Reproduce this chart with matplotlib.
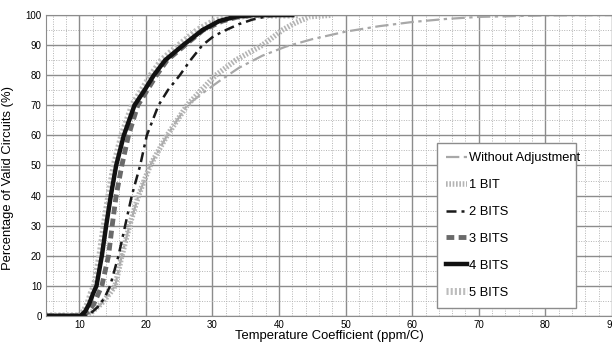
import matplotlib
matplotlib.use("Agg")
import matplotlib.pyplot as plt
from matplotlib.ticker import MultipleLocator

plt.rcParams['font.family'] = ['Liberation Sans', 'DejaVu Sans']

labels = ["Without Adjustment", "1 BIT", "2 BITS", "3 BITS", "4 BITS", "5 BITS"]

wa_x = [5, 10.8, 12.0, 13.3, 14.6, 15.4, 16.4, 17.55, 18.9, 20.65, 23.2, 26.2, 28.5, 31, 34, 37.5, 41, 45, 50, 55, 60, 65, 70, 80, 90]
wa_y = [0, 0, 1.5, 4, 7.5, 10, 20, 30, 40, 50, 60, 70, 74, 78, 82.5, 86.5, 89.5, 92, 94.5, 96.3, 97.7, 98.7, 99.4, 99.9, 100]

b1_x = [5, 10.8, 12.0, 13.3, 14.6, 15.4, 16.4, 17.55, 18.9, 20.65, 23.2, 26.2, 28.3, 30.5, 33.5, 37.5, 40.5, 42.5, 44.6, 48]
b1_y = [0, 0, 1.5, 4, 7.5, 10, 20, 30, 40, 50, 60, 70, 75, 80, 85, 90, 95, 97.5, 99.5, 100]

b2_x = [5, 10.8, 11.8, 12.8, 13.8, 14.65, 15.9, 16.9, 17.9, 19.15, 20.15, 21.9, 23.3, 25.1, 26.7, 28.5, 30.2, 32, 34, 36, 38, 40]
b2_y = [0, 0, 1, 3, 6, 10, 20, 30, 40, 50, 60, 70, 75, 80, 85, 90, 93, 95, 97, 98.5, 99.5, 100]

b3_x = [5, 10.6, 11.4, 12.2, 12.9, 13.4, 14.4, 14.95, 15.55, 16.4, 17.4, 18.8, 20.2, 21.6, 23.2, 25.9, 28.6, 31.5, 34, 37]
b3_y = [0, 0, 1.5, 4, 7.5, 10, 20, 30, 40, 50, 60, 70, 75, 80, 85, 90, 95, 98, 99.5, 100]

b4_x = [5, 10.2, 10.9, 11.5, 12.1, 12.6, 13.4, 14.05, 14.75, 15.55, 16.7, 18.3, 19.8, 21.2, 22.9, 25.6, 28.5, 31, 33.5, 36, 42]
b4_y = [0, 0, 1.5, 4, 7.5, 10, 20, 30, 40, 50, 60, 70, 75, 80, 85, 90, 95, 98, 99.5, 100, 100]

b5_x = [5, 10.0, 10.7, 11.3, 11.8, 12.3, 13.1, 13.75, 14.45, 15.25, 16.4, 18.0, 19.4, 20.8, 22.4, 25.0, 27.8, 30.3, 33, 36, 43]
b5_y = [0, 0, 1.5, 4, 7.5, 10, 20, 30, 40, 50, 60, 70, 75, 80, 85, 90, 95, 98, 99.5, 100, 100]

fig = plt.figure(figsize=(6.12, 3.43), dpi=100)
ax = fig.add_axes([0.075, 0.079, 0.925, 0.877])

ax.set_xlim(5, 90)
ax.set_ylim(0, 100)
ax.xaxis.set_major_locator(MultipleLocator(10))
ax.xaxis.set_minor_locator(MultipleLocator(2))
ax.yaxis.set_major_locator(MultipleLocator(10))
ax.yaxis.set_minor_locator(MultipleLocator(5))
ax.grid(which='major', color='#8c8c8c', lw=1.0, ls='-')
ax.grid(which='minor', color='#b4b4b4', lw=0.7, ls=(0, (1, 1.5)))
ax.set_axisbelow(True)
for s in ax.spines.values():
    s.set_color('#8c8c8c')
ax.tick_params(which='both', length=0, labelsize=7, pad=3)

l_wa, = ax.plot(wa_x, wa_y, color='#a8a8a8', lw=1.6, ls=(0, (6, 2, 1.5, 2)), label=labels[0])
l_b1, = ax.plot(b1_x, b1_y, color='#b4b4b4', lw=4.0, ls=(0, (0.3, 0.3)), label=labels[1])
l_b5, = ax.plot(b5_x, b5_y, color='#bcbcbc', lw=5.0, ls=(0, (0.3, 0.3)), label=labels[5])
l_b3, = ax.plot(b3_x, b3_y, color='#6a6a6a', lw=3.5, ls=(0, (1.6, 0.9)), label=labels[3])
l_b2, = ax.plot(b2_x, b2_y, color='#1a1a1a', lw=1.8, ls=(0, (4, 2, 1.2, 2)), label=labels[2])
l_b4, = ax.plot(b4_x, b4_y, color='#111111', lw=3.2, ls='-', label=labels[4])

ax.set_xlabel("Temperature Coefficient (ppm/C)", fontsize=9.4, labelpad=0)
ax.set_ylabel("Percentage of Valid Circuits (%)", fontsize=9.4)
ax.yaxis.set_label_coords(-0.057, 0.458)

leg = ax.legend([l_wa, l_b1, l_b2, l_b3, l_b4, l_b5], labels,
                loc='lower left', bbox_to_anchor=(0.691, 0.027, 0.245, 0.548), mode='expand',
                fontsize=9.3, frameon=True, fancybox=False, framealpha=1,
                edgecolor='#8c8c8c', handlelength=1.6, handletextpad=0.2,
                labelspacing=1.15, borderpad=0.7, borderaxespad=0)
leg.get_frame().set_linewidth(1.0)

fig.savefig("out.png", dpi=100)
